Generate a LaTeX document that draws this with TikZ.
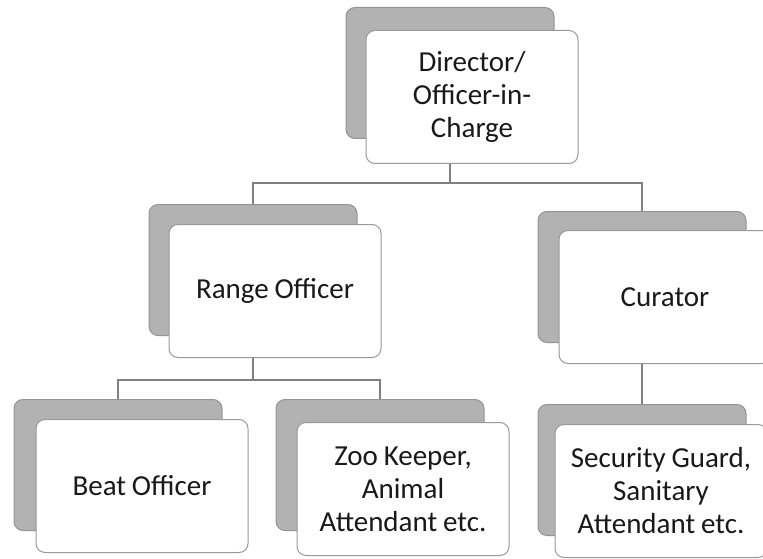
\documentclass[tikz,border=0pt]{standalone}
\usepackage{fontspec}
\setmainfont{Carlito}
\usetikzlibrary{backgrounds}

\begin{document}
\begin{tikzpicture}[x=1pt,y=-1pt,
  back/.style={rectangle,rounded corners=9pt,draw=black!42,fill=black!30,line width=1pt,minimum width=208pt,minimum height=131pt},
  card/.style={rectangle,rounded corners=9pt,draw=black!40,fill=white,line width=1pt,minimum width=212pt,minimum height=133pt,
    align=center,text width=200pt,text=black!90,font=\fontsize{29}{33}\selectfont,
    execute at begin node={\spaceskip=0.2em\relax}},
  link/.style={draw=black!50,line width=1.2pt}]
\clip (0,0) rectangle (763,559);

\node[back](dirS) at (450,73) {};
\node[back](roS) at (253,270) {};
\node[back](cuS) at (642,277) {};
\node[back](boS) at (118,465) {};
\node[back](zkS) at (380,465) {};
\node[back](sgS) at (642,470) {};

\node[card](dir) at ([shift={(22,24)}]dirS.center) {Director/\\Officer-in-\\Charge};
\node[card](ro) at ([shift={(22,21)}]roS.center) {Range Officer};
\node[card](cu) at ([shift={(23,20)}]cuS.center) {Curator};
\node[card](bo) at ([shift={(24,21)}]boS.center) {Beat Officer};
\node[card](zk) at ([shift={(23,24)}]zkS.center) {Zoo Keeper,\\Animal\\Attendant etc.};
\node[card](sg) at ([shift={(19,21)}]sgS.center) {Security Guard,\\Sanitary\\Attendant etc.};

\coordinate (j1) at (dirS.center |- 0,183);
\coordinate (j2) at (roS.center |- 0,380);

\begin{scope}[on background layer]
\fill[white] (0,0) rectangle (763,559);
\draw[link] (dirS.south) -- (j1);
\draw[link] (roS.north) |- (j1) -| (cuS.north);
\draw[link] (roS.south) -- (j2);
\draw[link] (boS.north) |- (j2) -| (zkS.north);
\draw[link] (cuS.south) -- (sgS.north);
\end{scope}
\end{tikzpicture}
\end{document}
